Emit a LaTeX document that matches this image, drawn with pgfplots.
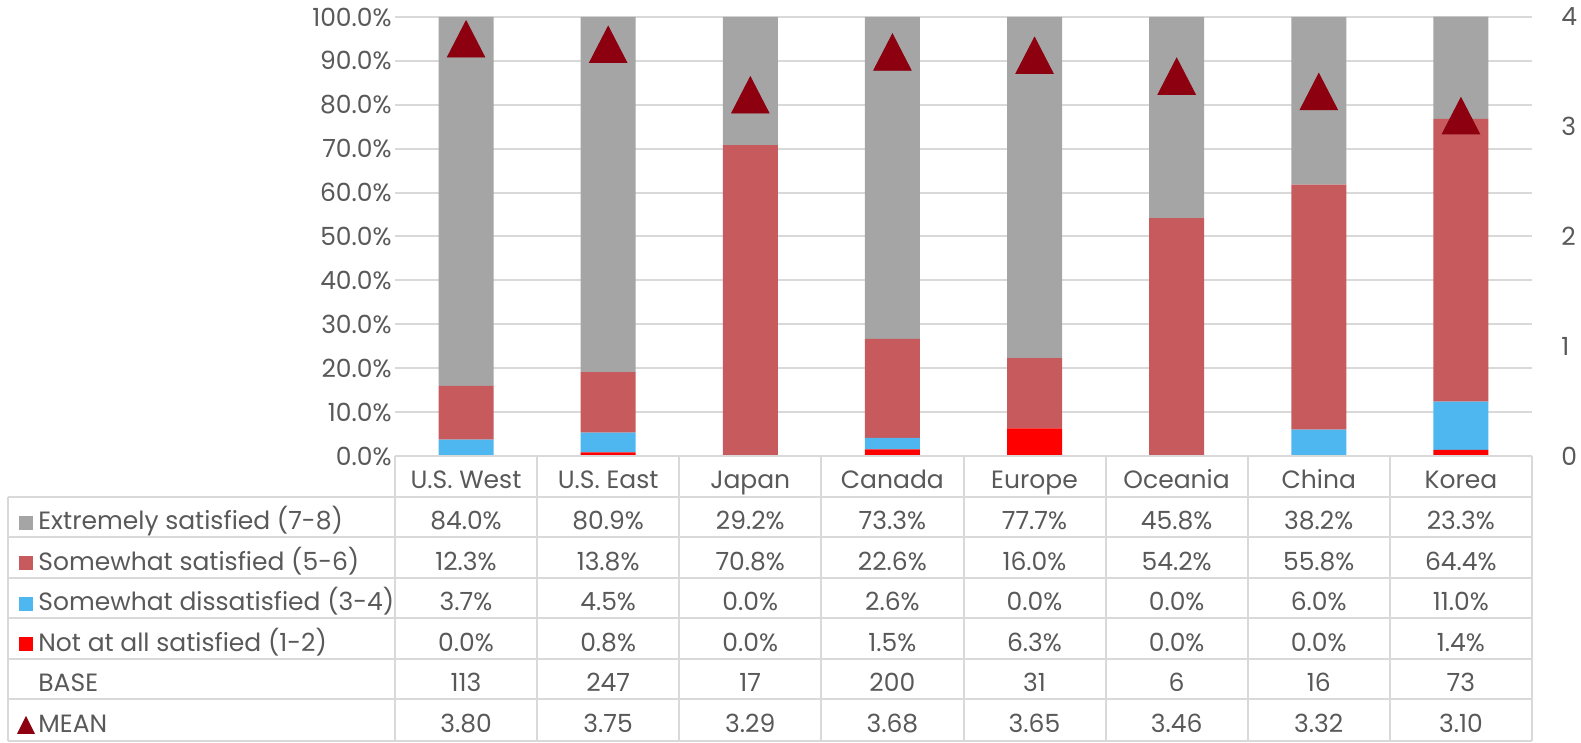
\documentclass[border=0pt]{standalone}
\usepackage{pgfplots}
\usepackage{pgfplotstable}
\pgfplotsset{compat=1.18}
\usepackage{fontspec}
\setmainfont{Poppins}
\definecolor{cext}{HTML}{A5A5A5}
\definecolor{csome}{HTML}{C65A5C}
\definecolor{cdis}{HTML}{4FB7EF}
\definecolor{cnot}{HTML}{FF0000}
\definecolor{ctri}{HTML}{8C0010}
\definecolor{ctext}{HTML}{595959}
\definecolor{cgrid}{HTML}{D9D9D9}
\pgfplotstableread{
idx cat ext some dis notat base mean
0 {U.S. West} 84.0 12.3 3.7 0.0 113 3.80
1 {U.S. East} 80.9 13.8 4.5 0.8 247 3.75
2 {Japan} 29.2 70.8 0.0 0.0 17 3.29
3 {Canada} 73.3 22.6 2.6 1.5 200 3.68
4 {Europe} 77.7 16.0 0.0 6.3 31 3.65
5 {Oceania} 45.8 54.2 0.0 0.0 6 3.46
6 {China} 38.2 55.8 6.0 0.0 16 3.32
7 {Korea} 23.3 64.4 11.0 1.4 73 3.10
}\datatable
\newcommand\tfont{\fontsize{12.5pt}{15pt}\selectfont}
\begin{document}
\begin{tikzpicture}[font=\tfont,text=ctext]
\useasboundingbox (0,0) rectangle (790.5pt,371.5pt);
\begin{axis}[at={(197.5pt,143.5pt)}, anchor=south west, scale only axis,
  width=568.5pt, height=219.5pt,
  ybar stacked, bar width=27.5pt,
  xmin=-0.5, xmax=7.5, ymin=0, ymax=100,
  xtick=\empty, ytick={0,10,...,100},
  yticklabel={\pgfmathprintnumber[fixed,fixed zerofill,precision=1,assume math mode=true]{\tick}\%},
  yticklabel style={font=\tfont, text=ctext, inner sep=1.5pt},
  axis line style={draw=none}, tick style={draw=none},
  ymajorgrids, grid style={cgrid, line width=1pt},
  clip=false]
\addplot[fill=cnot, draw=none] table[x=idx,y=notat]{\datatable};
\addplot[fill=cdis, draw=none] table[x=idx,y=dis]{\datatable};
\addplot[fill=csome, draw=none] table[x=idx,y=some]{\datatable};
\addplot[fill=cext, draw=none] table[x=idx,y=ext]{\datatable};
\end{axis}
\begin{axis}[at={(197.5pt,143.5pt)}, anchor=south west, scale only axis,
  width=568.5pt, height=219.5pt,
  xmin=-0.5, xmax=7.5, ymin=0, ymax=4,
  axis y line*=right, axis x line=none,
  xtick=\empty, ytick={0,1,2,3,4},
  yticklabel pos=right,
  /pgf/number format/assume math mode=true,
  yticklabel style={font=\tfont, text=ctext, inner sep=0pt, xshift=14.5pt},
  axis line style={draw=none}, tick style={draw=none},
  clip=false]
\addplot[only marks, mark=triangle*, mark size=10.8pt, color=ctri,
  mark options={yscale=1.12, yshift=-2.7pt}] table[x=idx,y=mean]{\datatable};
\end{axis}
% data table
\begin{scope}[x=0.5pt,y=0.5pt]
\begin{scope}[line width=1pt, cgrid]
\draw (395,287) -- (1532,287);
\foreach \yy in {246,206,165,125,84,44,2} \draw (8,\yy) -- (1532,\yy);
\draw (8,246) -- (8,2);
\foreach \k in {0,...,8} \draw ({395+142.125*\k},287) -- ({395+142.125*\k},2);
\end{scope}
\tikzset{cell/.style={inner sep=0pt, text height=9.5pt, text depth=2.5pt}}
\foreach \i in {0,...,7} {
  \pgfmathsetmacro{\cx}{466+142.125*\i}
  \pgfplotstablegetelem{\i}{cat}\of\datatable
  \node[cell] at (\cx,261) {\pgfplotsretval};
  \pgfplotstablegetelem{\i}{ext}\of\datatable
  \node[cell] at (\cx,220) {\pgfmathprintnumber[fixed,fixed zerofill,precision=1,assume math mode=true]{\pgfplotsretval}\%};
  \pgfplotstablegetelem{\i}{some}\of\datatable
  \node[cell] at (\cx,179.5) {\pgfmathprintnumber[fixed,fixed zerofill,precision=1,assume math mode=true]{\pgfplotsretval}\%};
  \pgfplotstablegetelem{\i}{dis}\of\datatable
  \node[cell] at (\cx,139) {\pgfmathprintnumber[fixed,fixed zerofill,precision=1,assume math mode=true]{\pgfplotsretval}\%};
  \pgfplotstablegetelem{\i}{notat}\of\datatable
  \node[cell] at (\cx,98.5) {\pgfmathprintnumber[fixed,fixed zerofill,precision=1,assume math mode=true]{\pgfplotsretval}\%};
  \pgfplotstablegetelem{\i}{base}\of\datatable
  \node[cell] at (\cx,58) {\pgfplotsretval};
  \pgfplotstablegetelem{\i}{mean}\of\datatable
  \node[cell] at (\cx,17.5) {\pgfmathprintnumber[fixed,fixed zerofill,precision=2,assume math mode=true]{\pgfplotsretval}};
}
\fill[cext] (19,213) rectangle (33,227);
\fill[csome] (19,172.5) rectangle (33,186.5);
\fill[cdis] (19,132) rectangle (33,146);
\fill[cnot] (19,91.5) rectangle (33,105.5);
\fill[ctri] (17,9) -- (35,9) -- (26,27) -- cycle;
\node[cell, anchor=west] at (38,220) {Extremely satisfied (7-8)};
\node[cell, anchor=west] at (38,179.5) {Somewhat satisfied (5-6)};
\node[cell, anchor=west] at (38,139) {Somewhat dissatisfied (3-4)};
\node[cell, anchor=west] at (38,98.5) {Not at all satisfied (1-2)};
\node[cell, anchor=west] at (38,58) {BASE};
\node[cell, anchor=west] at (38,17.5) {MEAN};
\end{scope}
\end{tikzpicture}
\end{document}
